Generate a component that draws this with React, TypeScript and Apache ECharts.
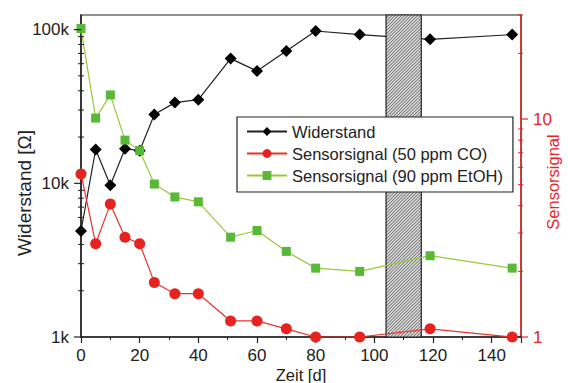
import React, { useEffect, useRef } from "react";
import * as echarts from "echarts";

const days = [0, 5, 10, 15, 20, 25, 32, 40, 51, 60, 70, 80, 95, 119, 147];
const resistanceOhm = [4900, 16600, 9700, 16800, 16300, 28000, 33500, 35000, 64800, 53800, 72600, 98000, 92800, 86500, 92800];
const signalCO = [5.6, 2.68, 4.07, 2.87, 2.68, 1.78, 1.58, 1.58, 1.185, 1.185, 1.09, 1.0, 1.0, 1.09, 1.0];
const signalEtOH = [26.0, 10.1, 12.9, 8.0, 7.16, 5.03, 4.39, 4.17, 2.87, 3.08, 2.47, 2.07, 2.0, 2.36, 2.07];
const hatchRange = [104, 116];
const seriesNames = ["Widerstand", "Sensorsignal (50 ppm CO)", "Sensorsignal (90 ppm EtOH)"];
const leftMajor = [1000, 10000, 100000];
const rightMajor = [1, 10];
const minorFactors = [2, 3, 4, 5, 6, 7, 8, 9];

const FONT = "'Liberation Sans', Arial, Helvetica, sans-serif";
const RED = "#e4262a";
const TXT = "#222";
const W = 568;
const H = 383;
const G = { left: 81, right: 47, top: 15, bottom: 46 };
const LEFT_MAX = 124500;
const RIGHT_MAX = 30;

function isPow10(v: number) {
  const l = Math.log10(v);
  return Math.abs(l - Math.round(l)) < 1e-6;
}

export default function App() {
  const ref = useRef<HTMLDivElement>(null);
  useEffect(() => {
    if (!ref.current) return;
    document.body.style.margin = "0";
    const chart = echarts.init(ref.current, undefined, { renderer: "svg" });
    const option: any = {
      animation: false,
      backgroundColor: "#fff",
      textStyle: { fontFamily: FONT },
      grid: {
        ...G,
        outerBoundsMode: "none",
        containLabel: false,
        show: true,
        borderColor: "#222",
        borderWidth: 1.2,
        backgroundColor: "transparent",
      },
      legend: {
        orient: "vertical",
        left: 237,
        top: 117,
        backgroundColor: "#fff",
        borderColor: "#222",
        borderWidth: 1.2,
        padding: [6, 10, 8, 9],
        itemWidth: 40,
        itemHeight: 11,
        itemGap: 5,
        textStyle: { fontSize: 16.5, color: TXT, fontFamily: FONT },
        data: seriesNames,
        z: 10,
      },
      xAxis: {
        type: "value",
        min: 0,
        max: 150,
        interval: 20,
        axisLine: { show: true, lineStyle: { color: "#222", width: 1.5 } },
        axisTick: { show: true, length: 6, lineStyle: { color: "#222", width: 1.2 } },
        minorTick: { show: true, splitNumber: 2, length: 3, lineStyle: { color: "#222", width: 1 } },
        splitLine: { show: false },
        axisLabel: {
          margin: 10,
          fontSize: 17,
          color: TXT,
          fontFamily: FONT,
          formatter: (v: number) => (v % 20 === 0 ? String(v) : ""),
        },
      },
      yAxis: [
        {
          type: "log",
          logBase: 10,
          min: 1000,
          max: LEFT_MAX,
          position: "left",
          axisLine: { show: true, lineStyle: { color: "#222", width: 1.5 } },
          axisTick: { show: false },
          splitLine: { show: false },
          axisLabel: {
            margin: 12,
            fontSize: 17,
            color: TXT,
            fontFamily: FONT,
            formatter: (v: number) => {
              if (!isPow10(v)) return "";
              const n = Math.round(v);
              return n >= 1000 ? n / 1000 + "k" : String(n);
            },
          },
        },
        {
          type: "log",
          logBase: 10,
          min: 1,
          max: RIGHT_MAX,
          position: "right",
          axisLine: { show: true, lineStyle: { color: RED, width: 1.5 } },
          axisTick: { show: false },
          splitLine: { show: false },
          axisLabel: {
            margin: 12,
            fontSize: 17,
            color: RED,
            fontFamily: FONT,
            formatter: (v: number) => (isPow10(v) ? String(Math.round(v)) : ""),
          },
        },
      ],
      series: [
        {
          name: seriesNames[0],
          type: "line",
          yAxisIndex: 0,
          z: 2,
          data: days.map((d, i) => [d, resistanceOhm[i]]),
          symbol: "diamond",
          symbolSize: 12,
          itemStyle: { color: "#000" },
          lineStyle: { color: "#222", width: 1.2 },
        },
        {
          type: "custom",
          name: "hatch",
          yAxisIndex: 0,
          z: 3,
          silent: true,
          data: [[hatchRange[0], hatchRange[1]]],
          encode: { x: [0, 1] },
          renderItem: (params: any, api: any) => {
            const cs = params.coordSys;
            const xa = api.coord([api.value(0), 1000])[0];
            const xb = api.coord([api.value(1), 1000])[0];
            const y0 = cs.y;
            const y1 = cs.y + cs.height;
            const children: any[] = [
              { type: "rect", shape: { x: xa, y: y0, width: xb - xa, height: y1 - y0 }, style: { fill: "#dadada" } },
            ];
            const step = 3.2;
            for (let c = xa + y0; c <= xb + y1; c += step) {
              const xs = Math.max(xa, c - y1);
              const xe = Math.min(xb, c - y0);
              if (xe <= xs) continue;
              children.push({
                type: "line",
                shape: { x1: xs, y1: c - xs, x2: xe, y2: c - xe },
                style: { stroke: "#555", lineWidth: 0.9 },
              });
            }
            children.push({
              type: "rect",
              shape: { x: xa, y: y0, width: xb - xa, height: y1 - y0 },
              style: { fill: "none", stroke: "#222", lineWidth: 1.2 },
            });
            return { type: "group", children };
          },
        },
        {
          name: seriesNames[1],
          type: "line",
          yAxisIndex: 1,
          z: 4,
          data: days.map((d, i) => [d, signalCO[i]]),
          symbol: "circle",
          symbolSize: 11,
          itemStyle: { color: "#e8221e" },
          lineStyle: { color: "#e8332b", width: 1.2 },
        },
        {
          name: seriesNames[2],
          type: "line",
          yAxisIndex: 1,
          z: 4,
          data: days.map((d, i) => [d, signalEtOH[i]]),
          symbol: "rect",
          symbolSize: 9,
          itemStyle: { color: "#58b936" },
          lineStyle: { color: "#9cc63c", width: 1.2 },
        },
      ],
    };
    chart.setOption(option);

    const leftX = G.left;
    const rightX = W - G.right;
    const yPix = (axis: number, v: number) => chart.convertToPixel({ yAxisIndex: axis } as any, v) as number;
    const line = (x1: number, y1: number, x2: number, y2: number, color: string, w: number) => ({
      type: "line",
      silent: true,
      z: 20,
      shape: { x1, y1, x2, y2 },
      style: { stroke: color, lineWidth: w },
    });
    const graphics: any[] = [];
    leftMajor.forEach((v) => {
      const y = yPix(0, v);
      graphics.push(line(leftX - 7, y, leftX, y, "#222", 1.2));
      minorFactors.forEach((k) => {
        const mv = v * k;
        if (mv <= LEFT_MAX) {
          const my = yPix(0, mv);
          graphics.push(line(leftX - 3, my, leftX + 3, my, "#222", 1));
        }
      });
    });
    rightMajor.forEach((v) => {
      const y = yPix(1, v);
      graphics.push(line(rightX, y, rightX + 7, y, RED, 1.2));
      minorFactors.forEach((k) => {
        const mv = v * k;
        if (mv <= RIGHT_MAX + 1e-9) {
          const my = yPix(1, mv);
          graphics.push(line(rightX - 3, my, rightX + 2, my, RED, 1));
        }
      });
    });
    graphics.push({
      type: "text",
      x: 24.5,
      y: 193,
      rotation: Math.PI / 2,
      style: { text: "Widerstand [Ω]", fontSize: 19, fill: TXT, fontFamily: FONT, align: "center", verticalAlign: "middle" },
    });
    graphics.push({
      type: "text",
      x: 553,
      y: 182,
      rotation: Math.PI / 2,
      style: { text: "Sensorsignal", fontSize: 16.5, fill: RED, fontFamily: FONT, align: "center", verticalAlign: "middle" },
    });
    graphics.push({
      type: "text",
      x: 301,
      y: 374.5,
      style: { text: "Zeit [d]", fontSize: 16.5, fill: TXT, fontFamily: FONT, align: "center", verticalAlign: "middle" },
    });
    chart.setOption({ graphic: graphics });

    return () => chart.dispose();
  }, []);
  return <div ref={ref} style={{ width: W, height: H }} />;
}
